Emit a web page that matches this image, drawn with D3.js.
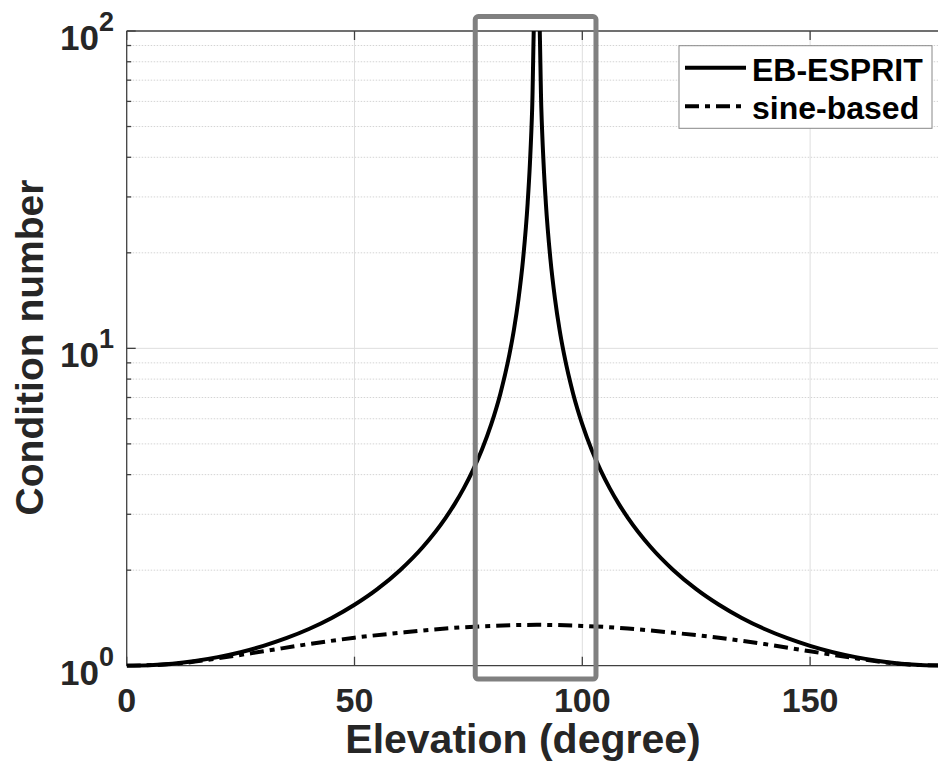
<!DOCTYPE html>
<html>
<head>
<meta charset="utf-8">
<script src="https://cdn.jsdelivr.net/npm/d3@7"></script>
<style>
  html, body { margin: 0; padding: 0; background: #fff; }
  svg { display: block; font-family: "Liberation Sans", Arial, sans-serif; }
</style>
</head>
<body>
<div id="chart"></div>
<script>
// x tick values and the y decades
const xTicks = [0, 50, 100, 150];
const yDecades = [1, 10, 100];
const yExponents = ["0", "1", "2"];

// EB-ESPRIT curve (denser near the 90 degree pole)
const ebAngles = [0, 5, 10, 15, 20, 25, 30, 35, 40, 45, 50, 55, 60, 65, 70, 72, 74, 76, 78, 80, 82, 84, 85, 86, 87, 88, 88.5, 89, 89.5,
  90.5, 91, 91.5, 92, 93, 94, 95, 96, 98, 100, 102, 104, 106, 108, 110, 115, 120, 125, 130, 135, 140, 145, 150, 155, 160, 165, 170, 175, 180];
const ebValues = [1.000, 1.004, 1.015, 1.035, 1.064, 1.103, 1.155, 1.221, 1.305, 1.414, 1.556, 1.743, 2.000, 2.366, 2.924, 3.236, 3.628, 4.134, 4.810, 5.759, 7.185, 9.567, 11.47, 14.34, 19.11, 28.65, 38.20, 57.30, 114.6,
  114.6, 57.30, 38.20, 28.65, 19.11, 14.34, 11.47, 9.567, 7.185, 5.759, 4.810, 4.134, 3.628, 3.236, 2.924, 2.366, 2.000, 1.743, 1.556, 1.414, 1.305, 1.221, 1.155, 1.103, 1.064, 1.035, 1.015, 1.004, 1.000];

// sine-based curve
const sineAngles = [0, 10, 20, 30, 40, 50, 60, 70, 80, 90, 100, 110, 120, 130, 140, 150, 160, 170, 180];
const sineValues = [1.000, 1.012, 1.055, 1.110, 1.170, 1.225, 1.270, 1.310, 1.335, 1.345, 1.335, 1.310, 1.270, 1.225, 1.170, 1.110, 1.055, 1.012, 1.000];

// highlighted region (grey box), in data units
const boxAngles = [76.5, 103];
const boxValues = [0.908, 111];

const legendLabels = ["EB-ESPRIT", "sine-based"];

const width = 938, height = 764;
const plotLeft = 126.7, plotRight = 946.8, plotTop = 31, plotBottom = 665.7;

const svg = d3.select("#chart").append("svg")
  .attr("width", width)
  .attr("height", height);

const x = d3.scaleLinear().domain([0, 180]).range([plotLeft, plotRight]);
const y = d3.scaleLog().domain([1, 100]).range([plotBottom, plotTop]);

svg.append("defs").append("clipPath").attr("id", "plotClip")
  .append("rect")
  .attr("x", plotLeft).attr("y", plotTop)
  .attr("width", plotRight - plotLeft).attr("height", plotBottom - plotTop + 2);

// minor values for log grid
const minorVals = [];
[1, 10].forEach(d => { for (let k = 2; k <= 9; k++) minorVals.push(d * k); });

const grid = svg.append("g");
grid.selectAll("line.minor")
  .data(minorVals)
  .enter().append("line")
  .attr("class", "minor")
  .attr("x1", plotLeft).attr("x2", plotRight)
  .attr("y1", d => y(d)).attr("y2", d => y(d))
  .attr("stroke", "#d4d4d4")
  .attr("stroke-width", 1)
  .attr("stroke-dasharray", "1.5,1.5");

grid.selectAll("line.hmajor")
  .data([10])
  .enter().append("line")
  .attr("class", "hmajor")
  .attr("x1", plotLeft).attr("x2", plotRight)
  .attr("y1", d => y(d)).attr("y2", d => y(d))
  .attr("stroke", "#dedede")
  .attr("stroke-width", 1);

grid.selectAll("line.vmajor")
  .data(xTicks.filter(d => d > 0))
  .enter().append("line")
  .attr("class", "vmajor")
  .attr("x1", d => x(d)).attr("x2", d => x(d))
  .attr("y1", plotTop).attr("y2", plotBottom)
  .attr("stroke", "#dedede")
  .attr("stroke-width", 1);

// axes box
const axisColor = "#404040";
const axes = svg.append("g").attr("stroke", axisColor).attr("stroke-width", 1.3);
axes.append("line").attr("x1", plotLeft).attr("x2", plotRight).attr("y1", plotBottom).attr("y2", plotBottom);
axes.append("line").attr("x1", plotLeft).attr("x2", plotRight).attr("y1", plotTop).attr("y2", plotTop);
axes.append("line").attr("x1", plotLeft).attr("x2", plotLeft).attr("y1", plotTop).attr("y2", plotBottom);

// x ticks (bottom and top, inward)
xTicks.forEach(t => {
  axes.append("line").attr("x1", x(t)).attr("x2", x(t)).attr("y1", plotBottom).attr("y2", plotBottom - 9);
  axes.append("line").attr("x1", x(t)).attr("x2", x(t)).attr("y1", plotTop).attr("y2", plotTop + 9);
});
// y ticks (left, inward)
yDecades.forEach(v => {
  axes.append("line").attr("x1", plotLeft).attr("x2", plotLeft + 9).attr("y1", y(v)).attr("y2", y(v));
});
minorVals.forEach(v => {
  axes.append("line").attr("x1", plotLeft).attr("x2", plotLeft + 4.5).attr("y1", y(v)).attr("y2", y(v));
});

// tick labels
const labelColor = "#262626";
svg.append("g").selectAll("text")
  .data(xTicks)
  .enter().append("text")
  .attr("x", d => x(d))
  .attr("y", 712)
  .attr("text-anchor", "middle")
  .attr("font-size", 34)
  .attr("font-weight", "bold")
  .attr("fill", labelColor)
  .text(d => d);

const yLab = svg.append("g").selectAll("text")
  .data(yDecades)
  .enter().append("text")
  .attr("x", 114)
  .attr("y", d => y(d) + 19)
  .attr("text-anchor", "end")
  .attr("font-weight", "bold")
  .attr("fill", labelColor);
yLab.append("tspan").attr("font-size", 35).text("10");
yLab.append("tspan").attr("font-size", 27).attr("dy", -19).text((d, i) => yExponents[i]);

// axis titles
svg.append("text")
  .attr("x", 523)
  .attr("y", 753)
  .attr("text-anchor", "middle")
  .attr("font-size", 41)
  .attr("font-weight", "bold")
  .attr("fill", labelColor)
  .text("Elevation (degree)");

svg.append("text")
  .attr("transform", "translate(43,347.5) rotate(-90)")
  .attr("text-anchor", "middle")
  .attr("font-size", 39)
  .attr("font-weight", "bold")
  .attr("fill", labelColor)
  .text("Condition number");

// curves
const line = d3.line()
  .x(d => x(d[0]))
  .y(d => y(d[1]))
  .curve(d3.curveMonotoneX);

const curves = svg.append("g").attr("clip-path", "url(#plotClip)");
curves.append("path")
  .datum(ebAngles.map((a, i) => [a, ebValues[i]]))
  .attr("fill", "none")
  .attr("stroke", "#000")
  .attr("stroke-width", 4)
  .attr("d", line);

curves.append("path")
  .datum(sineAngles.map((a, i) => [a, sineValues[i]]))
  .attr("fill", "none")
  .attr("stroke", "#000")
  .attr("stroke-width", 4)
  .attr("stroke-dasharray", "14,6,5,6")
  .attr("d", line);

// grey highlight box
svg.append("rect")
  .attr("x", x(boxAngles[0]))
  .attr("y", y(boxValues[1]))
  .attr("width", x(boxAngles[1]) - x(boxAngles[0]))
  .attr("height", y(boxValues[0]) - y(boxValues[1]))
  .attr("rx", 3)
  .attr("fill", "none")
  .attr("stroke", "#808080")
  .attr("stroke-width", 5);

// legend
const legend = svg.append("g");
legend.append("rect")
  .attr("x", 679).attr("y", 45.7)
  .attr("width", 253).attr("height", 82.6)
  .attr("fill", "#fff")
  .attr("stroke", "#888")
  .attr("stroke-width", 1);

const legendRows = legend.selectAll("g")
  .data(legendLabels)
  .enter().append("g")
  .attr("transform", (d, i) => `translate(0,${i * 38.5})`);

legendRows.append("line")
  .attr("x1", 685).attr("x2", 746)
  .attr("y1", 67.7).attr("y2", 67.7)
  .attr("stroke", "#000")
  .attr("stroke-width", 4)
  .attr("stroke-dasharray", (d, i) => i === 1 ? "14,6,5,6" : null);

legendRows.append("text")
  .attr("x", 752)
  .attr("y", 80.7)
  .attr("font-size", 32)
  .attr("font-weight", "bold")
  .attr("fill", "#000")
  .text(d => d);
</script>
</body>
</html>
